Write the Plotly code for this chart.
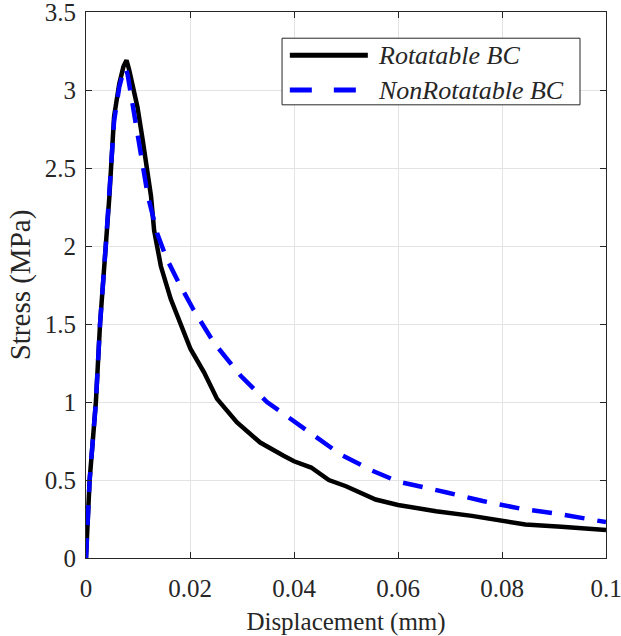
import plotly.graph_objects as go

# Rotatable BC (solid black)
rot_x = [0, 0.0003, 0.0007, 0.0013, 0.0019, 0.0027, 0.0038, 0.0045, 0.0054, 0.0064,
         0.0072, 0.0078, 0.0083, 0.0089, 0.0099, 0.0109, 0.0117, 0.0125, 0.0131, 0.0144,
         0.0163, 0.0182, 0.0201, 0.0227, 0.0252, 0.029, 0.0335, 0.038, 0.04, 0.0433,
         0.0467, 0.050, 0.0536, 0.0557, 0.060, 0.0673, 0.0742, 0.080, 0.0845, 0.0914, 0.1]
rot_y = [0, 0.25, 0.5, 0.75, 1.0, 1.5, 2.0, 2.32, 2.83, 3.04,
         3.15, 3.19, 3.13, 3.04, 2.89, 2.68, 2.50, 2.32, 2.1, 1.87,
         1.66, 1.49, 1.34, 1.19, 1.02, 0.87, 0.74, 0.655, 0.62, 0.58,
         0.50, 0.46, 0.41, 0.375, 0.34, 0.30, 0.27, 0.24, 0.215, 0.20, 0.18]

# NonRotatable BC (dashed blue)
nonrot_x = [0, 0.0003, 0.0007, 0.0019, 0.0027, 0.0038, 0.0045, 0.0054, 0.0064, 0.0072,
            0.0076, 0.0080, 0.0083, 0.0092, 0.0102, 0.0119, 0.0137, 0.0155, 0.0179, 0.0207,
            0.0246, 0.0297, 0.0348, 0.0412, 0.0489, 0.055, 0.060, 0.0694, 0.0763, 0.0838,
            0.0914, 0.1]
nonrot_y = [0, 0.25, 0.5, 1.0, 1.5, 2.0, 2.32, 2.8, 3.02, 3.12,
            3.14, 3.10, 3.04, 2.85, 2.64, 2.32, 2.08, 1.92, 1.76, 1.59,
            1.38, 1.17, 1.0, 0.85, 0.665, 0.56, 0.49, 0.42, 0.365, 0.315,
            0.28, 0.23]

x_ticks = [0, 0.02, 0.04, 0.06, 0.08, 0.1]
x_labels = ['0', '0.02', '0.04', '0.06', '0.08', '0.1']
y_ticks = [0, 0.5, 1, 1.5, 2, 2.5, 3, 3.5]
y_labels = ['0', '0.5', '1', '1.5', '2', '2.5', '3', '3.5']

names = ['Rotatable BC', 'NonRotatable BC']

serif = 'Liberation Serif, Times New Roman, serif'
ink = '#262626'
dash = '20px,13px'

fig = go.Figure()
fig.add_trace(go.Scatter(x=rot_x, y=rot_y, mode='lines', name=names[0],
                         line=dict(color='black', width=4.5)))
fig.add_trace(go.Scatter(x=nonrot_x, y=nonrot_y, mode='lines', name=names[1],
                         line=dict(color='blue', width=4.5, dash=dash)))

axis_common = dict(showline=True, linecolor=ink, linewidth=1, mirror='ticks',
                   ticks='inside', ticklen=6, tickcolor=ink, automargin=False,
                   ticklabeloverflow='allow',
                   showgrid=True, gridcolor='#e3e3e3', gridwidth=1, zeroline=False,
                   tickfont=dict(family=serif, size=25, color=ink))

fig.update_xaxes(range=[0, 0.1], tickvals=x_ticks, ticktext=x_labels, ticklabelstandoff=8,
                 title=dict(text='Displacement (mm)', font=dict(family=serif, size=25, color=ink),
                            standoff=11),
                 **axis_common)
fig.update_yaxes(range=[0, 3.5], tickvals=y_ticks, ticktext=y_labels, ticklabelstandoff=4,
                 title=dict(text='Stress (MPa)', font=dict(family=serif, size=29, color=ink),
                            standoff=5),
                 **axis_common)

# legend drawn by hand so the sample lines can be as long as in the original
box = dict(x0=0.377, x1=0.95, y0=0.830, y1=0.952)
rows = [0.921, 0.857]
styles = [dict(color='black', width=5), dict(color='blue', width=5, dash='22px,22px')]
fig.add_shape(type='rect', xref='paper', yref='paper', **box,
              fillcolor='white', line=dict(color=ink, width=1), layer='above')
for name, yy, st in zip(names, rows, styles):
    fig.add_shape(type='line', xref='paper', yref='paper', x0=0.392, x1=0.542,
                  y0=yy, y1=yy, line=st, layer='above')
    fig.add_annotation(xref='paper', yref='paper', x=0.558, y=yy, text='<i>' + name + '</i>',
                       showarrow=False, xanchor='left', yanchor='middle',
                       font=dict(family=serif, size=26, color=ink))

fig.update_layout(width=621, height=636,
                  margin=dict(l=86, r=15, t=12, b=78),
                  paper_bgcolor='white', plot_bgcolor='white',
                  showlegend=False)

# page has a default body margin that would shift the figure
fig.write_html("out.html", config={'displayModeBar': False},
               post_script="document.body.style.margin='0';")
